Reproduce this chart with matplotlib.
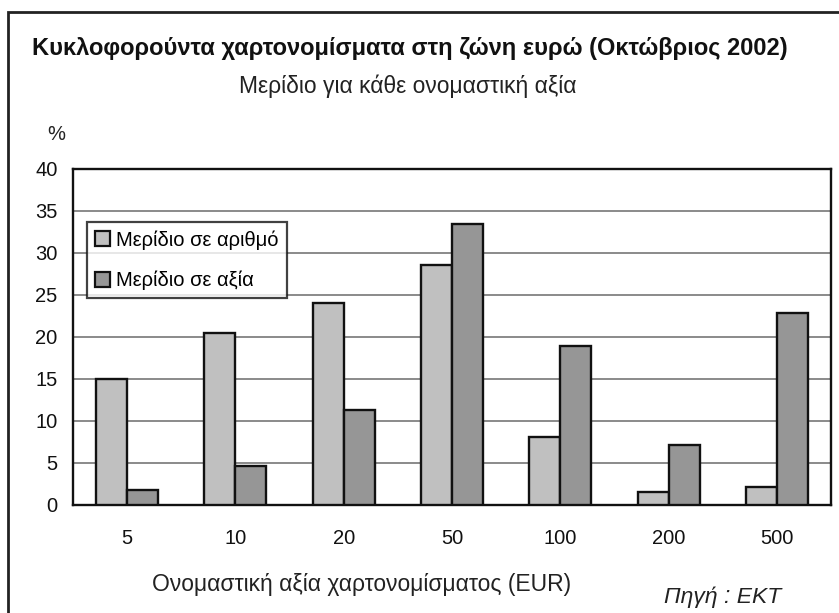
import matplotlib
matplotlib.use("Agg")
import matplotlib.pyplot as plt
from matplotlib.patches import Rectangle, Patch
import numpy as np

plt.rcParams['font.family'] = ['Liberation Sans', 'DejaVu Sans']

categories = ['5', '10', '20', '50', '100', '200', '500']
share_count = [15.0, 20.5, 24.1, 28.6, 8.1, 1.5, 2.1]
share_value = [1.8, 4.7, 11.3, 33.4, 18.9, 7.1, 22.8]
series_names = ['Μερίδιο σε αριθμό', 'Μερίδιο σε αξία']
yticks = [0, 5, 10, 15, 20, 25, 30, 35, 40]

W, H = 839, 613
fig = plt.figure(figsize=(W / 100, H / 100), dpi=100)

def fx(px):
    return px / W

def fy(py):
    return 1 - py / H

# outer frame (cut off at right and bottom)
fig.patches.append(Rectangle((fx(8), fy(700)), 2.0, fy(12) - fy(700),
                             transform=fig.transFigure, fill=False,
                             edgecolor='#222222', linewidth=2, zorder=0))

ax = fig.add_axes([fx(73), fy(505), fx(831) - fx(73), fy(169) - fy(505)])

x = np.arange(len(categories))
bw = 1 / 3.5
ax.bar(x - bw / 2, share_count, width=bw, color='#c0c0c0',
       edgecolor='#111111', linewidth=1.7, zorder=3, label=series_names[0])
ax.bar(x + bw / 2, share_value, width=bw, color='#969696',
       edgecolor='#111111', linewidth=1.7, zorder=3, label=series_names[1])

ax.set_xlim(-0.5, len(categories) - 0.5)
ax.set_ylim(0, 40)
ax.set_yticks(yticks)
ax.set_yticklabels([str(t) for t in yticks], fontsize=14.5, color='#111111')
ax.set_xticks(x)
ax.set_xticklabels(categories, fontsize=14.5, color='#111111')
ax.tick_params(axis='both', length=0)
ax.tick_params(axis='y', pad=11)
ax.tick_params(axis='x', pad=17)
ax.yaxis.grid(True, color='#8a8a8a', linewidth=1.4, zorder=0)
ax.set_axisbelow(True)
for s in ax.spines.values():
    s.set_linewidth(1.7)
    s.set_color('#111111')

leg = ax.legend(handles=[Patch(facecolor='#c0c0c0', edgecolor='#111111', linewidth=1.6, label=series_names[0]),
                         Patch(facecolor='#969696', edgecolor='#111111', linewidth=1.6, label=series_names[1])],
                loc='upper left',
                bbox_to_anchor=((87 - 73) / (831 - 73), (505 - 222) / (505 - 169)),
                borderaxespad=0, fontsize=14.5, frameon=True, fancybox=False,
                handlelength=0.75, handleheight=0.75, handletextpad=0.3,
                labelspacing=1.05, borderpad=0.4)
leg.get_frame().set_edgecolor('#111111')
leg.get_frame().set_linewidth(1.6)
leg.set_zorder(5)

fig.text(fx(410), fy(48), 'Κυκλοφορούντα χαρτονομίσματα στη ζώνη ευρώ (Οκτώβριος 2002)',
         ha='center', va='center', fontsize=17, fontweight='bold', color='#111111')
fig.text(fx(408), fy(86), 'Μερίδιο για κάθε ονομαστική αξία',
         ha='center', va='center', fontsize=16.5, color='#222222')
fig.text(fx(56), fy(134), '%', ha='center', va='center', fontsize=14.5, color='#222222')
fig.text(fx(362), fy(585), 'Ονομαστική αξία χαρτονομίσματος (EUR)',
         ha='center', va='center', fontsize=16.5, color='#222222')
fig.text(fx(723), fy(597), 'Πηγή : ΕΚΤ', ha='center', va='center',
         fontsize=16.5, style='italic', color='#222222')

fig.savefig('out.png', dpi=100)
